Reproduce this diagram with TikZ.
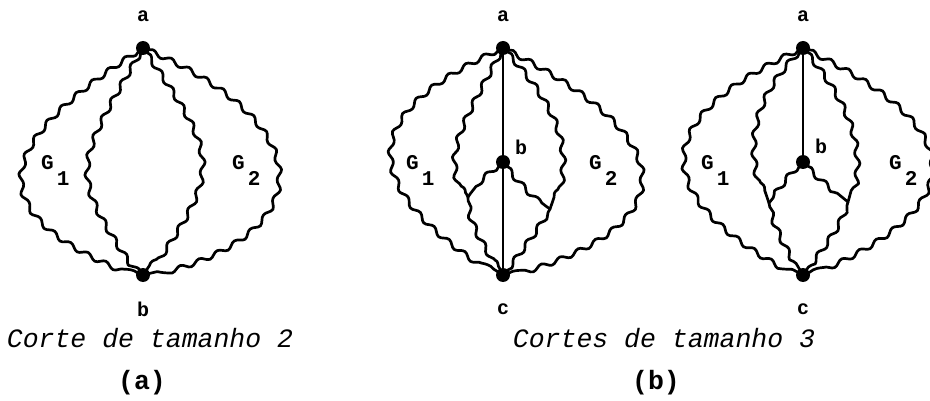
\documentclass[tikz,border=0pt]{standalone}
\usepackage{fontspec}
\usetikzlibrary{decorations.pathmorphing}
\newfontfamily\dotfont{Liberation Mono}

\tikzset{
  wavy/.style={line width=2.7pt, line join=round, line cap=round, decorate,
    decoration={snake, amplitude=2.4pt, segment length=20pt, pre length=4pt, post length=4pt}},
  straightedge/.style={line width=2.5pt},
  vertex/.style={circle, fill=black, inner sep=0pt, minimum size=14pt},
  lbl/.style={font=\dotfont\bfseries\fontsize{20}{21}\selectfont, inner sep=0pt},
  glbl/.style={font=\dotfont\bfseries\fontsize{21}{22}\selectfont, inner sep=0pt, anchor=base west},
  caption/.style={font=\dotfont\itshape\fontsize{26.5}{30}\selectfont, inner sep=0pt},
  tag/.style={font=\dotfont\bfseries\fontsize{26.5}{30}\selectfont, inner sep=0pt}
}

\begin{document}
\begin{tikzpicture}[x=1pt, y=-1pt]
\useasboundingbox (0,0) rectangle (930,401);

% ---------- (a): a single cut of size 2 ----------
\node[vertex] (a1) at (143,48) {};
\node[vertex] (b1) at (143,275) {};
\node[lbl] (la1) at (143,16) {a};
\node[lbl] (lb1) at (143,309) {b};

\draw[wavy] (a1.center) .. controls +(-157,100) and +(-157,-60) .. (b1.center);
\draw[wavy] (a1.center) .. controls +(176,75) and +(176,-40) .. (b1.center);
\draw[wavy] (a1.center) .. controls +(-71,121) and +(-71,-106) .. (b1.center);
\draw[wavy] (a1.center) .. controls +(76,110) and +(76,-110) .. (b1.center);

\node[glbl] (g11) at (41,170) {G\kern3pt\raisebox{-16pt}{1}};
\node[glbl] (g12) at (232,170) {G\kern3pt\raisebox{-16pt}{2}};

% ---------- (b), left: cuts through a--b--c ----------
\node[vertex] (a2) at (503,48) {};
\node[vertex] (b2) at (503,162) {};
\node[vertex] (c2) at (503,275) {};
\coordinate (jl2) at (468,197);
\coordinate (jr2) at (550,209);
\node[lbl] (la2) at (503,16) {a};
\node[lbl] (lb2) at (521,147) {b};
\node[lbl] (lc2) at (503,309) {c};

\draw[wavy] (a2.center) .. controls +(-144,65) and +(-144,-90) .. (c2.center);
\draw[wavy] (a2.center) .. controls +(180,90) and +(180,-50) .. (c2.center);
\draw[wavy] (a2.center) .. controls +(-40,75) and +(-25,-45) .. (jl2);
\draw[wavy] (jl2) .. controls +(0,25) and +(-15,-30) .. (c2.center);
\draw[wavy] (b2.center) .. controls +(-10,8) and +(10,-15) .. (jl2);
\draw[wavy] (a2.center) .. controls +(60,65) and +(20,-55) .. (jr2);
\draw[wavy] (jr2) .. controls +(-8,15) and +(15,-20) .. (c2.center);
\draw[wavy] (b2.center) .. controls +(8,12) and +(-15,-10) .. (jr2);
\draw[straightedge] (a2) -- (b2) -- (c2);

\node[glbl] (g21) at (406,170) {G\kern3pt\raisebox{-16pt}{1}};
\node[glbl] (g22) at (589,170) {G\kern3pt\raisebox{-16pt}{2}};

% ---------- (b), right: cuts through a--b ----------
\node[vertex] (a3) at (803,48) {};
\node[vertex] (b3) at (803,162) {};
\node[vertex] (c3) at (803,275) {};
\coordinate (jl3) at (769,203);
\coordinate (jr3) at (848,202);
\node[lbl] (la3) at (803,16) {a};
\node[lbl] (lb3) at (821,146) {b};
\node[lbl] (lc3) at (803,309) {c};

\draw[wavy] (a3.center) .. controls +(-153,70) and +(-153,-80) .. (c3.center);
\draw[wavy] (a3.center) .. controls +(167,80) and +(167,-70) .. (c3.center);
\draw[wavy] (a3.center) .. controls +(-55,55) and +(-18,-50) .. (jl3);
\draw[wavy] (jl3) .. controls +(3,20) and +(-12,-20) .. (c3.center);
\draw[wavy] (b3.center) .. controls +(-12,10) and +(10,-12) .. (jl3);
\draw[wavy] (a3.center) .. controls +(50,60) and +(15,-50) .. (jr3);
\draw[wavy] (jr3) .. controls +(-5,20) and +(20,-30) .. (c3.center);
\draw[wavy] (b3.center) .. controls +(10,12) and +(-12,-10) .. (jr3);
\draw[straightedge] (a3) -- (b3);

\node[glbl] (g31) at (701,170) {G\kern3pt\raisebox{-16pt}{1}};
\node[glbl] (g32) at (889,170) {G\kern3pt\raisebox{-16pt}{2}};

% ---------- captions ----------
\node[caption] (cap1) at (150,338) {Corte de tamanho 2};
\node[tag] (tag1) at (142,383) {(a)};
\node[caption] (cap2) at (664,338) {Cortes de tamanho 3};
\node[tag] (tag2) at (656,383) {(b)};
\end{tikzpicture}
\end{document}
